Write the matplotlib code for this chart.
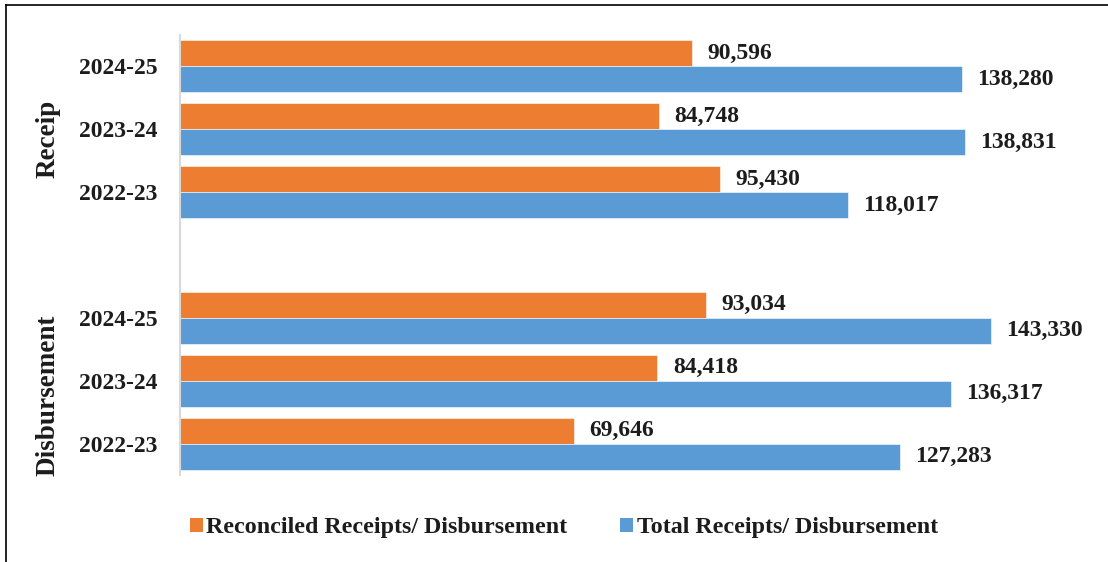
"""Reconciled vs total receipts / disbursement, horizontal grouped bars"""
import matplotlib
matplotlib.use("Agg")
import matplotlib.pyplot as plt
from matplotlib.lines import Line2D
from matplotlib.patches import Patch

# -----------------------------------------------------------------------------
# Data

years = ["2024-25", "2023-24", "2022-23"]
groups = ["Receip", "Disbursement"]

receipt_reconciled = [90596, 84748, 95430]
receipt_total = [138280, 138831, 118017]
disb_reconciled = [93034, 84418, 69646]
disb_total = [143330, 136317, 127283]

series_names = ["Reconciled Receipts/ Disbursement",
                "Total Receipts/ Disbursement"]

# -----------------------------------------------------------------------------
# Style

ORANGE = "#ED7D31"
BLUE = "#5B9BD5"
TEXT = "#1c1c1c"
FONT = dict(family="Liberation Serif", weight="bold", size=17, color=TEXT)

plt.rcParams["font.family"] = "Liberation Serif"

W, H = 1108, 562
fig = plt.figure(figsize=(W / 100, H / 100), dpi=100)
ax = fig.add_axes([180 / W, (H - 475) / H, 905 / W, 440 / H])

# One empty slot separates the two groups
slots_rec = [0, 1, 2]
slots_dis = [4, 5, 6]
slots = slots_rec + slots_dis
reconciled = receipt_reconciled + disb_reconciled
total = receipt_total + disb_total
labels = years + years

h = 0.413
ax.barh([s - h / 2 for s in slots], reconciled, height=h, color=ORANGE,
        edgecolor="white", linewidth=0.4)
ax.barh([s + h / 2 for s in slots], total, height=h, color=BLUE,
        edgecolor="white", linewidth=0.4)

# Value labels just past each bar end
for s, r, t in zip(slots, reconciled, total):
    ax.annotate(f"{r:,}", (r, s - h / 2), xytext=(11, 0),
                textcoords="offset points", va="center", ha="left", **FONT)
    ax.annotate(f"{t:,}", (t, s + h / 2), xytext=(11, 0),
                textcoords="offset points", va="center", ha="left", **FONT)

ax.set_xlim(0, 160000)
ax.set_ylim(6.5, -0.5)
ax.set_yticks(slots)
ax.set_yticklabels(labels, fontdict=FONT)
ax.tick_params(axis="y", length=0, pad=16)
ax.set_xticks([])
for side in ["top", "right", "bottom"]:
    ax.spines[side].set_visible(False)
ax.spines["left"].set_color("#D9D9D9")
ax.spines["left"].set_linewidth(1.5)

# Group labels on the far left
group_font = dict(FONT, size=19.5)
fig.text(48 / W, 1 - 139 / H, groups[0], rotation=90, ha="center",
         va="center", **group_font)
fig.text(48 / W, 1 - 395 / H, groups[1], rotation=90, ha="center",
         va="center", **group_font)

# Legend at the bottom
handles = [Patch(facecolor=ORANGE, edgecolor="none"),
           Patch(facecolor=BLUE, edgecolor="none")]
fig.legend(handles, series_names, loc="center", ncol=2,
           bbox_to_anchor=(564 / W, 1 - 528 / H), frameon=False,
           prop=dict(family="Liberation Serif", weight="bold", size=17.3),
           labelcolor=TEXT, handlelength=0.52, handleheight=0.52,
           handletextpad=0.15, columnspacing=2.2)

# Frame lines (top and left)
fig.add_artist(Line2D([6 / W, 6 / W], [0, 1 - 5 / H], color="black",
                      linewidth=1.2, transform=fig.transFigure))
fig.add_artist(Line2D([6 / W, 1], [1 - 5 / H, 1 - 5 / H], color="black",
                      linewidth=1.2, transform=fig.transFigure))

fig.savefig("out.png", dpi=100)
